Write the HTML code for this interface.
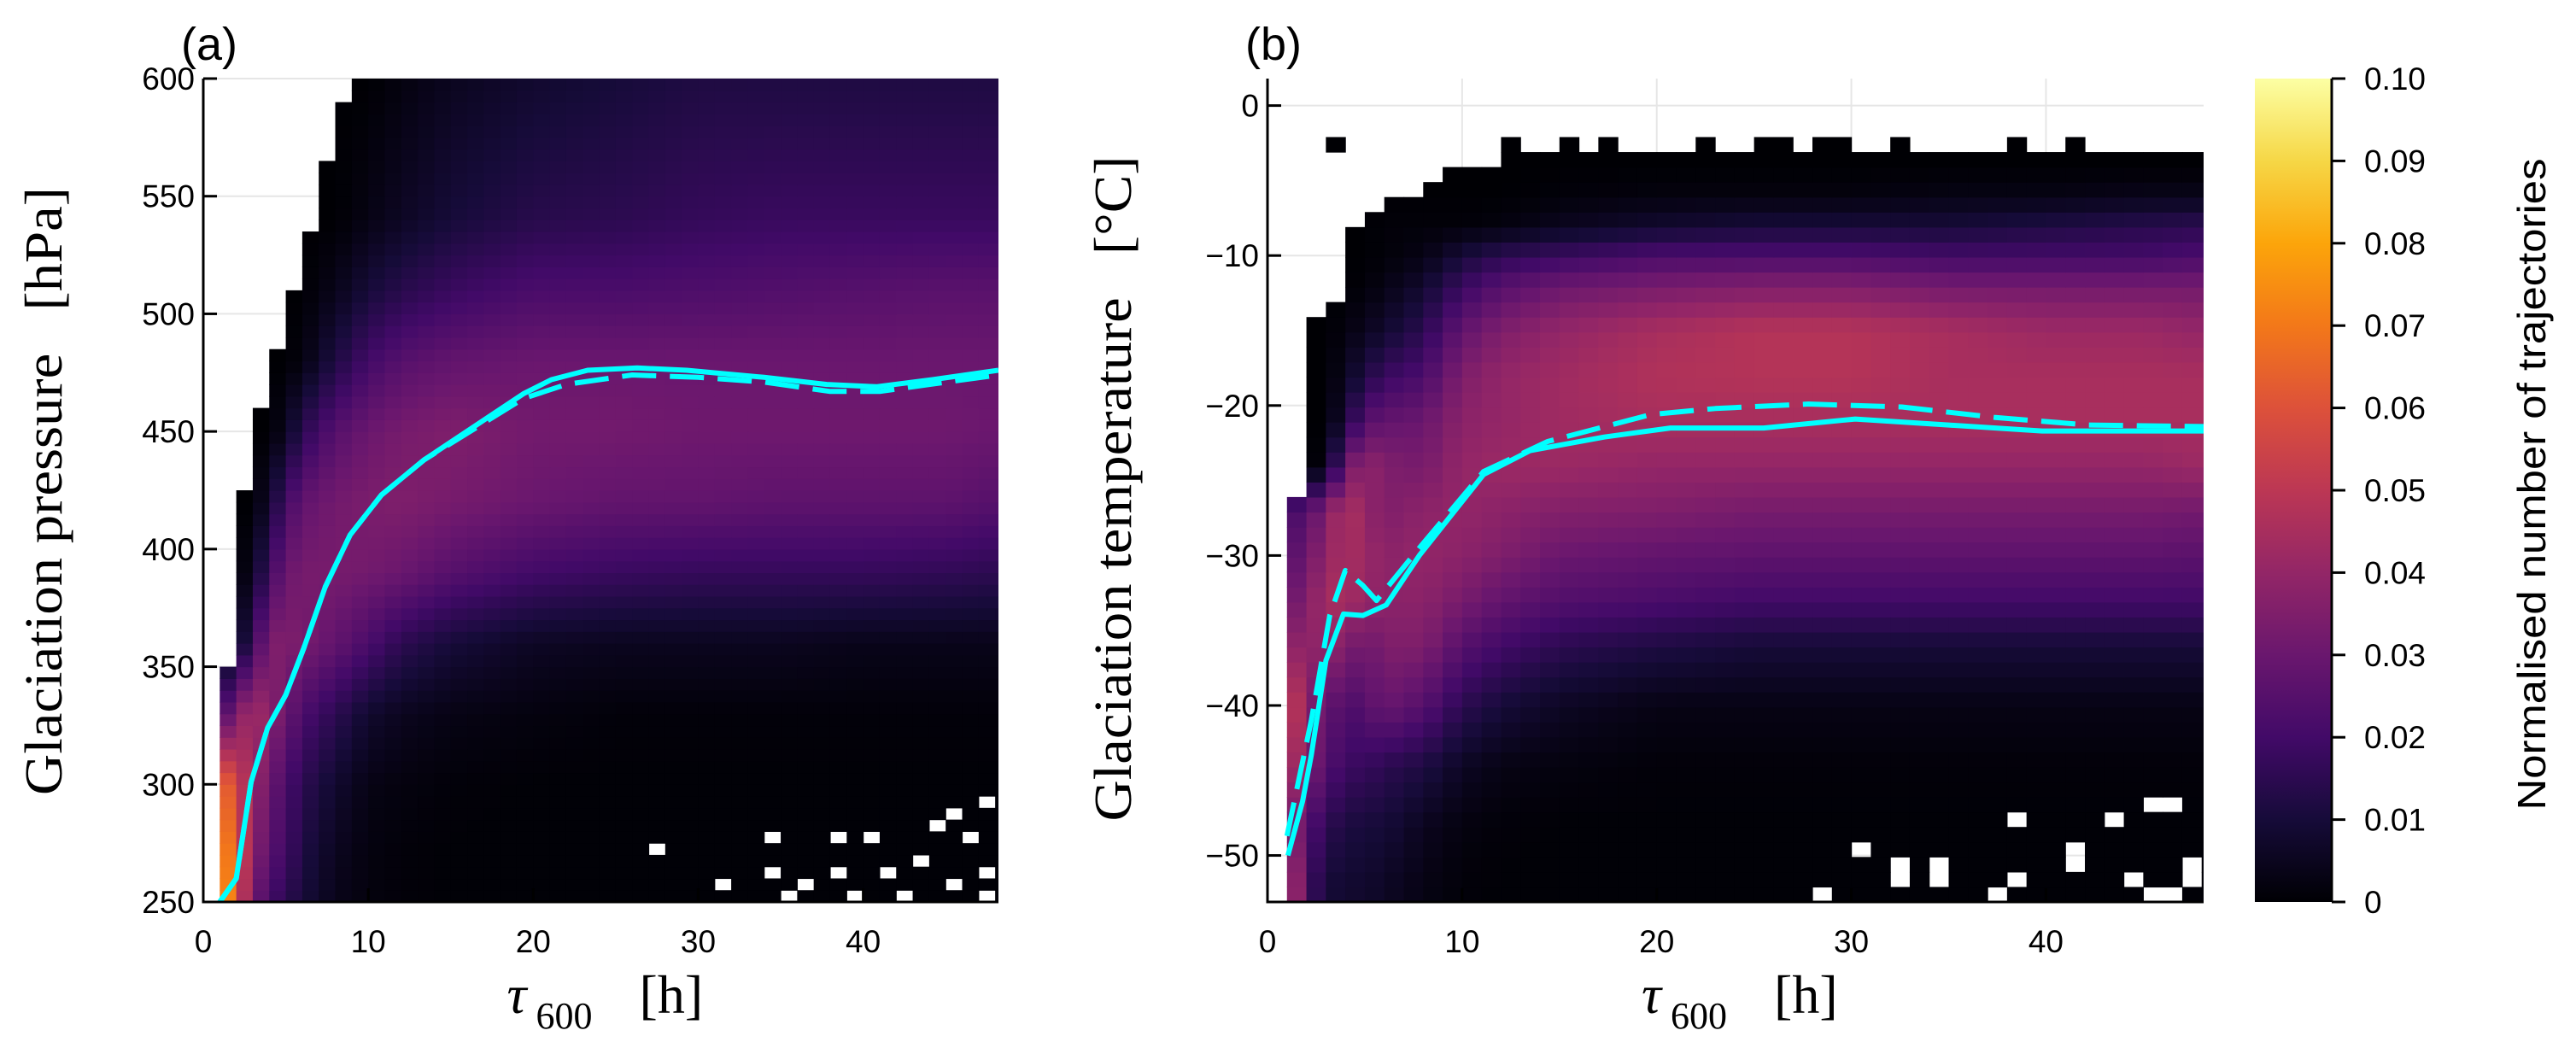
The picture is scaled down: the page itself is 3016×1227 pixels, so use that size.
<!DOCTYPE html>
<html><head><meta charset="utf-8"><style>
html,body{margin:0;padding:0;background:#fff;}
svg{display:block;}
.tk{font-family:"Liberation Sans",sans-serif;font-size:37px;fill:#000;}
.ser{font-family:"Liberation Serif",serif;fill:#000;white-space:pre;}
</style></head><body>
<svg id="fig" width="3016" height="1227" viewBox="0 0 3016 1227" xmlns="http://www.w3.org/2000/svg">
<defs>
<clipPath id="clipA"><rect x="238" y="92" width="931" height="964"/></clipPath>
<clipPath id="clipB"><rect x="1484" y="92" width="1096" height="964"/></clipPath>
<linearGradient id="cbg" x1="0" y1="1" x2="0" y2="0">
<stop offset="0" stop-color="#000004"/><stop offset="0.1" stop-color="#160b39"/><stop offset="0.2" stop-color="#420a68"/><stop offset="0.3" stop-color="#6a176e"/><stop offset="0.4" stop-color="#932667"/><stop offset="0.5" stop-color="#bc3754"/><stop offset="0.6" stop-color="#dd513a"/><stop offset="0.7" stop-color="#f37819"/><stop offset="0.8" stop-color="#fca50a"/><stop offset="0.9" stop-color="#f6d746"/><stop offset="1" stop-color="#fcffa4"/>
</linearGradient>
</defs>
<g id="panelA"></g>
<g id="panelB"></g>
<g id="cbar"></g>
</svg>
<script>
// ---------- data ----------
const gridX = [1,2,3,4,5,6,8,10,12,15,20,25,30,35,40,45,48];
// Panel A: pressure rows (hPa) and density values (x0.001)
const aRowsP = [600,540,510,480,450,420,390,360,330,300,270,250];
const aVals = [
 [0,0,0,0,0,0,0,0,2,5,8,10,12,12,12,12,12],
 [0,0,0,0,0,0,0,3,6,10,14,15,17,18,18,18,18],
 [0,0,0,0,0,0,4,10,14,18,22,22,23,24,25,26,26],
 [0,0,0,0,0,2,12,20,25,28,30,30,30,30,30,30,30],
 [0,0,0,0,5,15,25,30,33,35,32,32,31,31,31,31,30],
 [0,0,0,8,20,28,32,34,35,33,30,28,28,27,27,27,25],
 [0,0,5,20,30,33,33,32,30,25,20,18,17,17,17,16,15],
 [0,3,18,35,35,33,28,22,15,10,6,5,5,5,4,4,4],
 [20,35,45,38,30,22,15,8,5,3,2,1,1,1,1,1,1],
 [70,55,42,30,22,15,8,3,2,1,0.5,0.5,0.5,0.5,0.5,0.5,0.5],
 [80,60,38,25,20,12,5,2,1,0.5,0.5,0.5,0.5,0.5,0.5,0.5,0.5],
 [85,60,32,20,15,10,4,2,1,0.5,0.5,0.5,0.5,0.5,0.5,0.5,0.5]
];
const aBoundP = [250,340,360,400,450,470,500,520,550,580,600];
const aBoundX = [1,1,2,2,3,4,5,6,7,8,9];
const aHolesX = [27,31,34,34,35,36,38,38,39,40,41,42,43,44,45,45,46,47,47,47];
const aHolesP = [270,256,275,262,250,256,262,275,250,275,262,250,268,281,287,256,275,262,290,250];
const aSolidX = [1,2,2.9,3.9,5,6.1,7.4,8.9,10.8,13.4,16.4,19.4,21.1,23.3,26.3,29.3,34,37.8,40.8,44.2,48.2];
const aSolidY = [250,260,301,324,338,358,384,406,423,438,452,466,472,476,477,476,473,470,469,472,476];
const aDashX = [1,2,2.9,3.9,5,6.1,7.4,8.9,10.8,13.4,16.4,19.4,22,26,30,34,38,41,44,48.2];
const aDashY = [250,260,301,324,338,358,384,406,423,438,451,464,470,474,473,471,467,467,470,474];
// Panel B
const bRowsT = [-4,-6,-8,-10,-12,-15,-18,-21,-24,-27,-30,-33,-36,-40,-44,-48,-52];
const bVals = [
 [0,0,0,0,0,0,0,0,0,0,0,0,0,0,0,0,0],
 [0,0,0,0,0,0,0,0,0,1,2,2,2,3,3,4,4],
 [0,0,0,0,0,1,1,1,2,5,8,10,10,10,12,14,15],
 [0,0,0,0,0,1,3,10,15,18,22,22,22,20,20,20,22],
 [0,0,0,0,1,3,8,18,25,30,33,35,35,32,32,32,32],
 [0,0,0,2,5,8,15,28,35,40,45,48,48,45,42,42,40],
 [0,0,0,5,12,18,22,35,40,43,47,48,48,45,45,45,45],
 [0,0,0,10,25,28,30,38,40,43,45,45,45,45,45,45,45],
 [0,0,2,30,40,35,33,40,42,42,40,40,40,40,40,40,42],
 [20,25,35,48,40,35,38,40,38,36,35,33,33,33,33,33,32],
 [25,30,40,45,42,38,40,38,35,30,28,27,27,27,27,27,26],
 [30,35,45,45,40,38,38,33,28,24,22,20,20,20,20,20,20],
 [40,38,40,35,30,35,35,25,20,15,12,10,10,10,10,10,10],
 [60,35,30,22,25,30,25,15,10,6,3,3,3,3,3,3,3],
 [50,35,25,18,18,15,12,6,3,2,1,1,1,1,1,1,1],
 [40,25,15,12,10,10,5,2,1,0.5,0.5,0.5,0.5,0.5,0.5,0.5,0.5],
 [55,20,10,8,8,6,3,1,0.5,0.5,0.5,0.5,0.5,0.5,0.5,0.5,0.5]
];
const bBoundT = [-53,-27,-26,-20,-14,-13,-10,-7,-5.5,-4.5,-3.5];
const bBoundX = [1,1,2,2,2,4,4,5,8,9,12];
const bHolesX = [28,30,32,32,34,34,37,38,38,41,41,43,44,45,46,47,46,45,47];
const bHolesT = [-53,-50,-52,-51,-52,-51,-53,-48,-52,-51,-50,-48,-52,-47,-47,-51,-53,-53,-52];
const bTopBumpX = [3,12,15,17,22,25,26,28,29,32,38,41];
const bSolidX = [1.05,1.8,2.25,3,3.9,4.9,6.1,7.8,11.1,13.5,17.3,20.7,25.5,30.2,35,39.8,48.2];
const bSolidY = [-50,-46.4,-43.3,-37,-33.9,-34,-33.3,-30,-24.6,-23,-22.1,-21.5,-21.5,-20.9,-21.3,-21.7,-21.7];
const bDashX = [1,2.25,3.2,4,4.9,5.6,7.8,11.1,14.4,19.7,23,27.8,32.6,37.4,42.2,48.2];
const bDashY = [-48.7,-41,-34,-31,-32,-33,-29.5,-24.4,-22.4,-20.6,-20.2,-19.9,-20.1,-20.8,-21.3,-21.4];
const aYTicks = [250,300,350,400,450,500,550,600];
const bYTicks = [-50,-40,-30,-20,-10,0];
const xTicks = [0,10,20,30,40];
const cbTicks = [0,0.01,0.02,0.03,0.04,0.05,0.06,0.07,0.08,0.09,0.10];
const cbLabels = ["0","0.01","0.02","0.03","0.04","0.05","0.06","0.07","0.08","0.09","0.10"];

// ---------- helpers ----------
const NS="http://www.w3.org/2000/svg";
function mk(tag, attrs, parent){const e=document.createElementNS(NS,tag);for(const k in attrs)e.setAttribute(k,attrs[k]);parent.appendChild(e);return e;}
const stops=[[0,0,4],[22,11,57],[66,10,104],[106,23,110],[147,38,103],[188,55,84],[221,81,58],[243,120,25],[252,165,10],[246,215,70],[252,255,164]];
function cmap(v){let t=Math.max(0,Math.min(1,v/0.1))*10;let i=Math.min(9,Math.floor(t));let f=t-i;const a=stops[i],b=stops[i+1];return `rgb(${Math.round(a[0]+(b[0]-a[0])*f)},${Math.round(a[1]+(b[1]-a[1])*f)},${Math.round(a[2]+(b[2]-a[2])*f)})`;}
function interp1(xs,ys,x){if(x<=xs[0])return ys[0];for(let i=1;i<xs.length;i++){if(x<=xs[i]){const f=(x-xs[i-1])/(xs[i]-xs[i-1]);return ys[i-1]+(ys[i]-ys[i-1])*f;}}return ys[ys.length-1];}
function gridVal(rows,vals,y,x){
  let r0=0; while(r0<rows.length-2 && y<rows[r0+1]) r0++;
  let f=(rows[r0]-y)/(rows[r0]-rows[r0+1]); f=Math.max(0,Math.min(1,f));
  const v0=interp1(gridX,vals[r0],x), v1=interp1(gridX,vals[r0+1],x);
  return (v0+(v1-v0)*f)/1000;
}

function panel(g, o){
  const sx=v=>o.x0+(v-o.xmin)/(o.xmax-o.xmin)*o.w;
  const sy=v=>o.y0+o.h-(v-o.ymin)/(o.ymax-o.ymin)*o.h;
  for(const t of o.yTicks){const l=mk('line',{x1:o.x0,x2:o.x0+o.w,y1:sy(t),y2:sy(t),stroke:'#e6e6e6','stroke-width':2},g);
    
    }
  for(const t of xTicks){if(t===0)continue;const l=mk('line',{x1:sx(t),x2:sx(t),y1:o.y0,y2:o.y0+o.h,stroke:'#e6e6e6','stroke-width':2},g);
    
    }
  const hm=mk('g',{'clip-path':`url(#${o.clip})`},g);
  
  
  for(let yb=o.ymin0; yb<o.ymaxData-1e-9; yb+=o.dy){
    const yc=yb+o.dy/2;
    const bx=interp1(o.bY,o.bX,yc);
    for(let k=1;k<49;k++){
      const xc=k+0.5;
      if(k<Math.round(bx)) continue;
      let hole=false;
      for(let h=0;h<o.hx.length;h++){if(o.hx[h]===k && o.hy[h]>=yb-1e-9 && o.hy[h]<yb+o.dy-1e-9){hole=true;break;}}
      if(hole) continue;
      const v=gridVal(o.rows,o.vals,yc,xc);
      const r=mk('rect',{x:sx(k),y:sy(yb+o.dy),width:sx(k+1)-sx(k)+0.6,height:sy(yb)-sy(yb+o.dy)+0.6,fill:cmap(v)},hm);
      
      
    }
  }
  if(o.bumps){for(const k of o.bumps){const r=mk('rect',{x:sx(k),y:sy(o.ymaxData+1),width:sx(k+1)-sx(k)+0.6,height:sy(o.ymaxData)-sy(o.ymaxData+1)+0.6,fill:'#000004'},hm);
    
    }}
  const lg=mk('g',{'clip-path':`url(#${o.clip})`},g);
  
  
  const ds=o.dashX.map((x,i)=>`${i?'L':'M'}${sx(x).toFixed(1)},${sy(o.dashY[i]).toFixed(1)}`).join(' ');
  const pd=mk('path',{d:ds,fill:'none',stroke:'#00ffff','stroke-width':6,'stroke-dasharray':'40 16','stroke-linejoin':'round'},lg);
  
  
  const ss=o.solidX.map((x,i)=>`${i?'L':'M'}${sx(x).toFixed(1)},${sy(o.solidY[i]).toFixed(1)}`).join(' ');
  const ps=mk('path',{d:ss,fill:'none',stroke:'#00ffff','stroke-width':6,'stroke-linejoin':'round'},lg);
  
  
  const ax=mk('path',{d:`M${o.x0},${o.y0} L${o.x0},${o.y0+o.h} L${o.x0+o.w},${o.y0+o.h}`,fill:'none',stroke:'#000','stroke-width':3},g);
  
  
  for(const t of o.yTicks){
    const l=mk('line',{x1:o.x0,x2:o.x0+16,y1:sy(t),y2:sy(t),stroke:'#000','stroke-width':3},g);
    
    
    const tx=mk('text',{x:o.x0-10,y:sy(t)+13,'text-anchor':'end',class:'tk'},g);tx.textContent=(t<0?'\u2212'+(-t):String(t));
    
    
  }
  for(const t of xTicks){
    const l=mk('line',{x1:sx(t),x2:sx(t),y1:o.y0+o.h,y2:o.y0+o.h-16,stroke:'#000','stroke-width':3},g);
    
    
    const tx=mk('text',{x:sx(t),y:o.y0+o.h+59,'text-anchor':'middle',class:'tk'},g);tx.textContent=String(t);
    
    
  }
  const cx=o.x0+o.w/2;
  const xt=mk('text',{x:cx-110,y:1186,class:'ser',style:'font-size:64px;font-style:italic'},g);xt.textContent='\u03c4';
  
  
  const xs=mk('text',{x:cx-76,y:1204,class:'ser',style:'font-size:44px'},g);xs.textContent='600';
  
  
  const xu=mk('text',{x:cx+45,y:1186,class:'ser',style:'font-size:64px'},g);xu.textContent='[h]';
  
  
  const yt=mk('text',{x:0,y:0,class:'ser',style:'font-size:62px','text-anchor':'middle',transform:`translate(${o.ytx},${o.yty}) rotate(-90)`,textLength:o.ylen,lengthAdjust:'spacingAndGlyphs'},g);yt.textContent=o.ylabel;
  
  
  const pl=mk('text',{x:o.lx,y:70,class:'tk',style:'font-size:54px'},g);pl.textContent=o.plabel;
  
  
}

panel(document.getElementById('panelA'),{x0:238,y0:92,w:931,h:964,xmin:0,xmax:48.2,ymin:250,ymax:600,ymin0:250,ymaxData:600,dy:5,
  rows:aRowsP,vals:aVals,bY:aBoundP,bX:aBoundX,hx:aHolesX,hy:aHolesP,clip:'clipA',yTicks:aYTicks,
  solidX:aSolidX,solidY:aSolidY,dashX:aDashX,dashY:aDashY,ylabel:'Glaciation pressure   [hPa]',ytx:72,yty:575,ylen:712,lx:212,plabel:'(a)'});
panel(document.getElementById('panelB'),{x0:1484,y0:92,w:1096,h:964,xmin:0,xmax:48.1,ymin:-53.1,ymax:1.8,ymin0:-53.1,ymaxData:-3.1,dy:1,
  rows:bRowsT,vals:bVals,bY:bBoundT,bX:bBoundX,hx:bHolesX,hy:bHolesT,clip:'clipB',yTicks:bYTicks,bumps:bTopBumpX,
  solidX:bSolidX,solidY:bSolidY,dashX:bDashX,dashY:bDashY,ylabel:'Glaciation temperature   [\u00b0C]',ytx:1324,yty:572,ylen:779,lx:1458,plabel:'(b)'});

const cb=document.getElementById('cbar');
const cr=mk('rect',{x:2640,y:92,width:90,height:964,fill:'url(#cbg)'},cb);


const cl=mk('line',{x1:2730,x2:2730,y1:92,y2:1056,stroke:'#000','stroke-width':3},cb);


cbTicks.forEach((t,i)=>{
  const y=1056-t/0.1*964;
  const l=mk('line',{x1:2730,x2:2746,y1:y,y2:y,stroke:'#000','stroke-width':3},cb);
  
  
  const tx=mk('text',{x:2768,y:y+13,class:'tk'},cb);tx.textContent=cbLabels[i];
  
  
});
const ct=mk('text',{x:0,y:0,class:'tk',style:'font-size:46px','text-anchor':'middle',transform:'translate(2980,567) rotate(-90)',textLength:763,lengthAdjust:'spacingAndGlyphs'},cb);
ct.textContent='Normalised number of trajectories';


</script>
</body></html>
